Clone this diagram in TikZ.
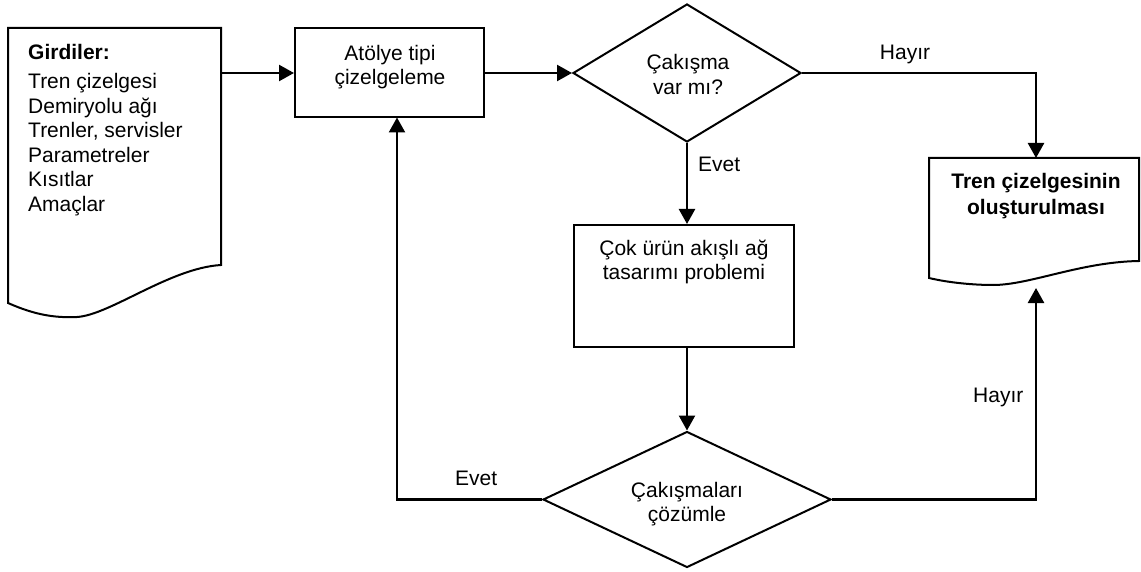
\documentclass[tikz,border=0pt]{standalone}
\usepackage{fontspec}
\setmainfont{Liberation Sans}
\usetikzlibrary{shapes.geometric,arrows.meta}
\begin{document}
\begin{tikzpicture}[x=1pt,y=-1pt,
  every node/.style={font=\fontsize{21}{24.5}\selectfont},
  line/.style={line width=2pt,line join=miter},
  arr/.style={line width=2.4pt,-{Triangle[length=15pt,width=16pt]}},
  procbox/.style={draw,line width=2pt,rectangle,inner sep=0pt},
  decision/.style={draw,line width=2pt,diamond,inner sep=0pt,aspect=1.6},
  area/.style={rectangle,inner sep=0pt},
  txt/.style={align=center,inner sep=0pt,anchor=north},
  lbl/.style={inner sep=0pt,anchor=base west}
]
\useasboundingbox (0,0) rectangle (1141,572);

% input document
\node[area,minimum width=213,minimum height=237] (in) at (114.5,146.5) {};
\draw[line] (8,303) -- (8,28) -- (221,28) -- (221,265)
  .. controls (170,268) and (110,315) .. (77,317)
  .. controls (55,318) and (35,315) .. (8,303) -- cycle;
\node[align=left,inner sep=0pt,anchor=north west] (intxt) at (28,44.2)
  {\textbf{Girdiler:}\\[4.5pt]Tren çizelgesi\\Demiryolu ağı\\Trenler, servisler\\Parametreler\\Kısıtlar\\Amaçlar};

% output document
\node[area,minimum width=210,minimum height=120] (out) at (1034,218) {};
\draw[line] (929,278) -- (929,158) -- (1139,158) -- (1139,261)
  .. controls (1080,262) and (1030,285) .. (993,285)
  .. controls (975,285) and (950,283) .. (929,278) -- cycle;
\node[txt,font=\fontsize{21}{26}\selectfont\bfseries] (outtxt) at (1036,172.7)
  {Tren çizelgesinin\\oluşturulması};

% process boxes
\node[procbox,minimum width=189,minimum height=89] (b1) at (389.5,73) {};
\node[txt] (b1txt) at (390,44.7) {Atölye tipi\\çizelgeleme};
\node[procbox,minimum width=220,minimum height=122] (b2) at (684,286) {};
\node[txt] (b2txt) at (684,239.7) {Çok ürün akışlı ağ\\tasarımı problemi};

% decisions
\node[decision,minimum width=228,minimum height=138] (d1) at (687,73) {};
\node[txt,font=\fontsize{21}{25.5}\selectfont] (d1txt) at (688,53.7) {Çakışma\\var mı?};
\node[decision,minimum width=288,minimum height=136] (d2) at (687,499.5) {};
\node[txt] (d2txt) at (687,481.7) {Çakışmaları\\çözümle};

% coordinates for connector ends
\coordinate (inR) at (221,73);
\coordinate (outT) at (1036,158);
\coordinate (outB) at (1036,288);
\coordinate (fb) at (397,117.5);

% connectors
\draw[arr] (inR) -- (b1.west |- inR);
\draw[arr] (b1.east) -- (d1.west);
\draw[arr] (d1.east) -| (outT);
\draw[arr] (d1.south) -- (d1.south |- b2.north);
\draw[arr] (b2.south -| d2.north) -- (d2.north);
\draw[arr] (d2.west) -| (fb);
\draw[arr] (d2.east) -| (outB);

% labels
\node[inner sep=0pt,anchor=base] (l1) at (905,60) {Hayır};
\node[lbl] (l2) at (698,172) {Evet};
\node[lbl] (l3) at (973,402) {Hayır};
\node[lbl] (l4) at (455,485) {Evet};
\end{tikzpicture}
\end{document}
